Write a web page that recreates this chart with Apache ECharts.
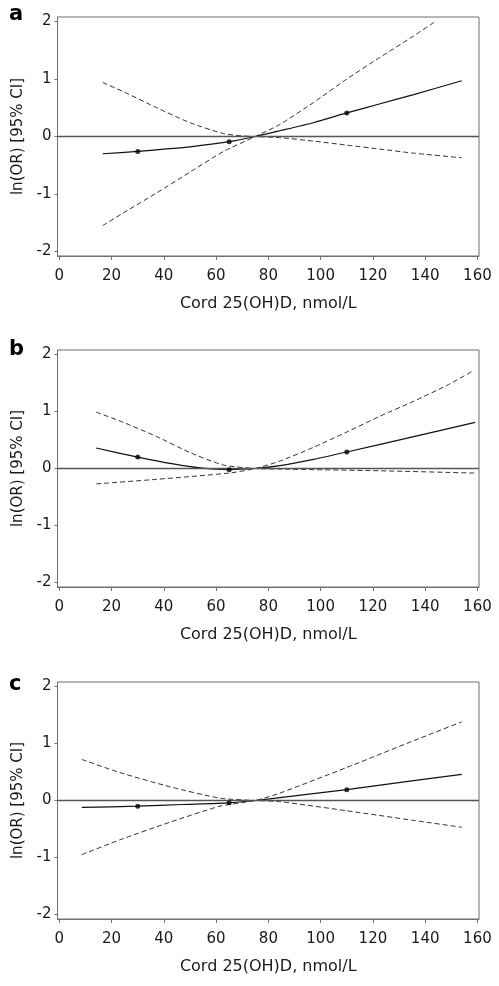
<!DOCTYPE html>
<html>
<head>
<meta charset="utf-8">
<script src="https://cdn.jsdelivr.net/npm/echarts@6/dist/echarts.min.js"></script>
<style>html,body{margin:0;padding:0;background:#fff}#c{width:499px;height:986px}</style>
</head>
<body>
<div id="c"></div>
<script>
// ---- data ----
const xTicks = [0, 20, 40, 60, 80, 100, 120, 140, 160];
const yTicks = [-2, -1, 0, 1, 2];
const panelLetters = ['a', 'b', 'c'];
const xTitle = 'Cord 25(OH)D, nmol/L';
const yTitle = 'ln(OR) [95% CI]';

// panel a
const estAx = [16.6, 30, 40, 50, 65, 75, 84.4, 97.2, 110, 122.8, 135.6, 154];
const estAy = [-0.30, -0.26, -0.22, -0.18, -0.09, 0, 0.10, 0.24, 0.41, 0.57, 0.73, 0.97];
const ci1Ax = [16.6, 24.5, 37.3, 50, 62.8, 70, 75, 84.4, 97.2, 110, 122.8, 135.6, 154];
const ci1Ay = [0.94, 0.78, 0.50, 0.24, 0.05, 0.01, 0, -0.02, -0.08, -0.15, -0.22, -0.29, -0.37];
const ci2Ax = [16.6, 24.5, 37.3, 50, 62.8, 75, 84.4, 97.2, 110, 122.8, 135.6, 143.8];
const ci2Ay = [-1.55, -1.33, -0.98, -0.62, -0.26, 0, 0.21, 0.59, 1.00, 1.38, 1.75, 2.0];
const dotsAy = [-0.26, -0.09, 0.41];

// panel b
const estBx = [14.1, 30, 43.6, 53.9, 65, 75, 84.4, 97.2, 110, 135.6, 159.1];
const estBy = [0.36, 0.20, 0.08, 0.01, -0.02, 0, 0.05, 0.16, 0.29, 0.56, 0.81];
const ci1Bx = [14.1, 24.5, 37.3, 50, 62.8, 75, 84.4, 122.8, 159.1];
const ci1By = [0.99, 0.81, 0.56, 0.28, 0.06, 0, -0.01, -0.04, -0.08];
const ci2Bx = [14.1, 37.3, 65, 75, 84.4, 97.2, 110, 122.8, 135.6, 148.4, 157.8];
const ci2By = [-0.27, -0.19, -0.08, 0, 0.13, 0.37, 0.64, 0.92, 1.18, 1.46, 1.70];
const dotsBy = [0.20, -0.02, 0.29];

// panel c
const estCx = [8.6, 30, 47, 65, 75, 84.4, 110, 135.6, 154];
const estCy = [-0.12, -0.10, -0.07, -0.04, 0, 0.05, 0.19, 0.35, 0.46];
const ci1Cx = [8.6, 23.2, 42.4, 61.5, 75, 84.4, 110, 135.6, 154];
const ci1Cy = [0.72, 0.49, 0.24, 0.04, 0, -0.02, -0.18, -0.35, -0.47];
const ci2Cx = [8.6, 23.2, 42.4, 61.5, 75, 84.4, 110, 135.6, 154];
const ci2Cy = [-0.95, -0.69, -0.38, -0.10, 0, 0.13, 0.58, 1.05, 1.38];
const dotsCy = [-0.10, -0.04, 0.19];

const dotsX = [30, 65, 110];

// ---- build ----
const zip = (xs, ys) => xs.map((x, i) => [x, ys[i]]);
const panels = [
  {est: zip(estAx, estAy), ci1: zip(ci1Ax, ci1Ay), ci2: zip(ci2Ax, ci2Ay), dots: zip(dotsX, dotsAy)},
  {est: zip(estBx, estBy), ci1: zip(ci1Bx, ci1By), ci2: zip(ci2Bx, ci2By), dots: zip(dotsX, dotsBy)},
  {est: zip(estCx, estCy), ci1: zip(ci1Cx, ci1Cy), ci2: zip(ci2Cx, ci2Cy), dots: zip(dotsX, dotsCy)}
];
const gridTops = [17, 350, 682];
const gridH = [239, 237, 237];
const letterY = [16, 351, 686];
const FONT = 'DejaVu Sans';
const frameColor = '#6f6f6f';
const textColor = '#1a1a1a';

const grid = [], xAxis = [], yAxis = [], series = [], graphic = [];
panels.forEach((p, i) => {
  grid.push({left: 57.5, width: 421.5, top: gridTops[i], height: gridH[i], show: true,
    borderColor: frameColor, borderWidth: 1, backgroundColor: 'transparent'});
  xAxis.push({type: 'value', gridIndex: i, min: -0.7, max: 160.6,
    axisLine: {show: true, onZero: false, lineStyle: {color: frameColor, width: 1}},
    axisTick: {show: true, length: 4, customValues: xTicks, lineStyle: {color: frameColor}},
    axisLabel: {customValues: xTicks, color: textColor, fontFamily: FONT, fontSize: 15, margin: 13},
    splitLine: {show: false},
    name: xTitle, nameLocation: 'middle', nameGap: 40,
    nameTextStyle: {color: textColor, fontFamily: FONT, fontSize: 16}
  });
  yAxis.push({type: 'value', gridIndex: i, min: -2.08, max: 2.08,
    axisLine: {show: true, onZero: false, lineStyle: {color: frameColor, width: 1}},
    axisTick: {show: true, length: 3, customValues: yTicks, lineStyle: {color: frameColor}},
    axisLabel: {customValues: yTicks, color: textColor, fontFamily: FONT, fontSize: 15, margin: 6},
    splitLine: {show: false},
    name: yTitle, nameLocation: 'middle', nameGap: 32,
    nameTextStyle: {color: textColor, fontFamily: FONT, fontSize: 15}
  });
  series.push({type: 'line', xAxisIndex: i, yAxisIndex: i, data: p.est, symbol: 'none',
    smooth: 0.2, lineStyle: {color: '#111', width: 1.2}, z: 3,
    markLine: {silent: true, symbol: 'none', label: {show: false},
      lineStyle: {color: '#555', width: 1.3, type: 'solid'}, data: [{yAxis: 0}]}});
  series.push({type: 'line', xAxisIndex: i, yAxisIndex: i, data: p.ci1, symbol: 'none',
    smooth: 0.2, lineStyle: {color: '#333', width: 1, type: [5, 3]}});
  series.push({type: 'line', xAxisIndex: i, yAxisIndex: i, data: p.ci2, symbol: 'none',
    smooth: 0.2, lineStyle: {color: '#333', width: 1, type: [5, 3]}});
  series.push({type: 'scatter', xAxisIndex: i, yAxisIndex: i, data: p.dots, symbol: 'circle',
    symbolSize: 5, itemStyle: {color: '#000'}, z: 5});
  graphic.push({type: 'text', left: 9, top: letterY[i] - 12,
    style: {text: panelLetters[i], font: 'bold 21px "DejaVu Sans"', fill: '#000'}});
});

const chart = echarts.init(document.getElementById('c'), null, {renderer: 'canvas'});
chart.setOption({animation: false, backgroundColor: '#fff', grid, xAxis, yAxis, series, graphic});
</script>
</body>
</html>
